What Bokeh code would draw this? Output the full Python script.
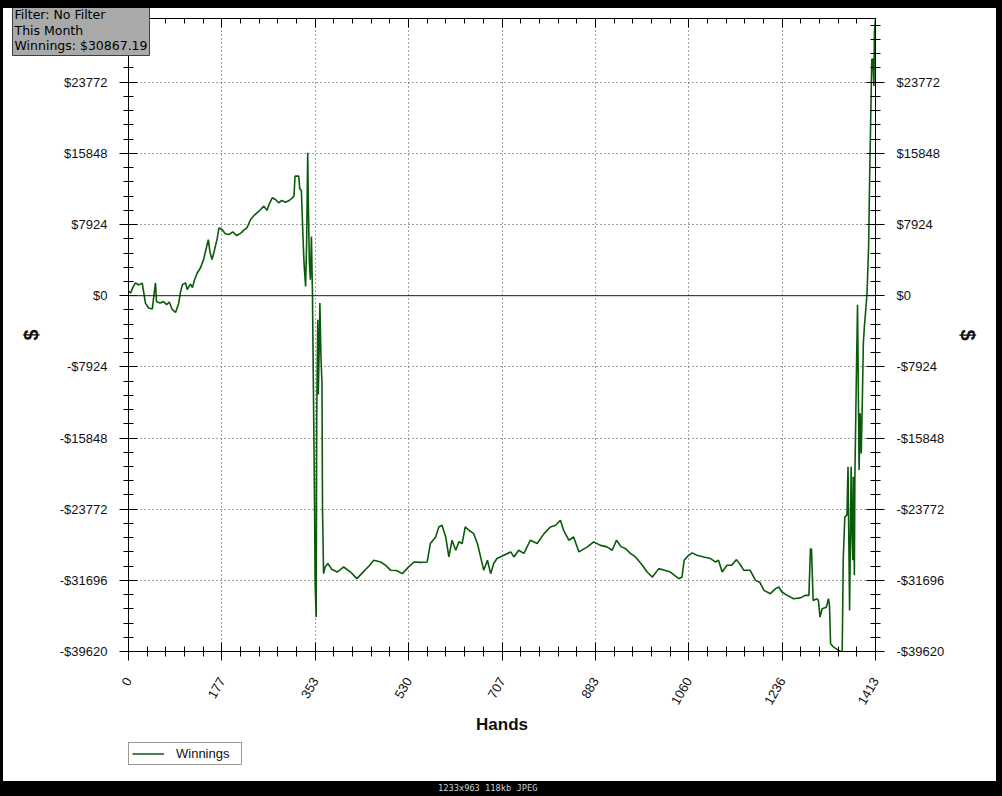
import math
from bokeh.plotting import figure
from bokeh.models import (FixedTicker, LinearAxis, Range1d, Span, Title, Legend, LegendItem, Div)
from bokeh.layouts import column
from bokeh.embed import file_html
from bokeh.resources import INLINE

# ---------------- data ----------------
hands = [0, 4, 8, 13, 20, 26, 29, 32, 38, 45, 47, 51, 53, 60, 66, 72, 77, 83, 89, 95,
         98, 102, 108, 111, 117, 121, 124, 130, 136, 142, 148, 151, 154, 158, 162, 168, 171, 177, 183, 190,
         197, 205, 213, 218, 224, 231, 237, 243, 250, 256, 262, 266, 272, 278, 284, 290, 297, 304, 310, 313,
         315, 322, 324, 327, 330, 332, 335, 337, 339, 340, 342, 344, 346, 348, 350, 352, 353, 355, 356, 358,
         359, 361, 362, 364, 366, 367, 369, 372, 377, 385, 395, 407, 420, 432, 445, 455, 464, 477, 486, 496,
         507, 518, 530, 540, 552, 565, 571, 581, 587, 593, 600, 606, 612, 619, 625, 631, 637, 644, 653, 660,
         666, 672, 679, 685, 691, 697, 710, 723, 729, 738, 748, 760, 773, 786, 798, 808, 817, 823, 833, 842,
         852, 868, 880, 893, 905, 915, 923, 932, 940, 950, 959, 972, 981, 991, 1003, 1014, 1025, 1041, 1047, 1051,
         1058, 1066, 1075, 1088, 1101, 1110, 1116, 1123, 1132, 1141, 1150, 1158, 1164, 1176, 1186, 1194, 1202, 1214, 1224, 1230,
         1236, 1246, 1258, 1271, 1280, 1287, 1290, 1292, 1295, 1302, 1305, 1308, 1312, 1320, 1324, 1326, 1328, 1334, 1343, 1350,
         1352, 1355, 1359, 1361, 1364, 1367, 1368, 1370, 1371, 1373, 1374, 1377, 1379, 1382, 1384, 1386, 1388, 1390, 1392, 1394,
         1397, 1400, 1402, 1404, 1406, 1408, 1410, 1411, 1413]
winnings = [480, 300, 900, 1420, 1200, 1400, 300, -820, -1370, -1490, -490, 1420, -670, -820, -640, -1000, -700, -1560, -1860, -840,
            300, 1230, 1420, 670, 1300, 900, 1600, 2530, 3090, 4020, 5500, 6250, 4900, 4020, 4900, 6440, 7550, 7370, 6900, 6810,
            7100, 6700, 7000, 7300, 7550, 8480, 8900, 9230, 9600, 9970, 9500, 10200, 10900, 10720, 10350, 10600, 10400, 10600, 10900, 11090,
            13310, 13310, 11900, 11700, 6620, 3650, 1040, 6000, 15920, 11000, 4000, 1790, 6600, 200, -11600, -23500, -32000, -35790, -13470, -2680,
            -11000, -5000, -820, -6770, -9740, -23880, -30950, -30200, -29830, -30500, -30770, -30210, -30770, -31510, -30700, -30100, -29460, -29650, -30000, -30580,
            -30600, -30950, -30200, -29650, -29700, -29650, -27600, -26860, -25750, -25560, -26860, -29090, -27230, -28350, -27400, -27600, -25750, -26120, -26500, -27600,
            -29090, -30580, -29460, -30950, -29800, -29270, -28900, -28530, -29090, -28350, -28700, -27230, -27600, -26490, -25750, -25560, -25000, -26120, -27230, -26860,
            -28530, -27970, -27420, -27800, -27970, -28350, -27230, -27970, -28160, -28720, -29090, -30020, -30770, -31330, -30390, -30580, -30770, -31510, -31330, -29460,
            -29000, -28640, -28900, -29090, -29270, -29650, -29460, -30770, -30020, -30020, -29390, -30020, -30580, -30580, -31700, -31900, -32810, -33180, -32620, -32440,
            -33000, -33370, -33740, -33650, -33370, -33370, -28160, -28300, -33930, -33740, -33930, -35790, -34860, -34700, -33740, -34500, -38760, -39140, -39500, -39700,
            -29270, -24630, -24440, -19050, -35040, -19050, -25000, -29460, -20170, -31140, -20170, -8260, -1000, -19420, -13090, -17560, -12000, -5280, -3420, -2000,
            300, 5500, 13310, 20000, 26340, 26340, 23360, 29320, 30867.19]

x_tick_values = [0, 176.625, 353.25, 529.875, 706.5, 883.125, 1059.75, 1236.375, 1413]
x_tick_labels = ["0", "177", "353", "530", "707", "883", "1060", "1236", "1413"]
y_tick_values = [-39620, -31696, -23772, -15848, -7924, 0, 7924, 15848, 23772]
y_tick_labels = ["-$39620", "-$31696", "-$23772", "-$15848", "-$7924", "$0", "$7924", "$15848", "$23772"]
x_min, x_max = 0, 1413
y_min, y_max = -39620, 30867.19
title_lines = ["Filter: No Filter", "This Month", "Winnings: $30867.19"]
series_name = "Winnings"
x_title = "Hands"
y_title = "$"
caption = "1233x963 118kb JPEG"

# ---------------- styling ----------------
FONT = "Liberation Sans"
LINE_COLOR = "#0b5a0b"

x_minor = []
for a, b in zip(x_tick_values[:-1], x_tick_values[1:]):
    x_minor += [a + (b - a) * k / 5 for k in range(1, 5)]
y_step = (y_tick_values[1] - y_tick_values[0]) / 5
y_minor = []
v = y_tick_values[0] + y_step
while v < y_max:
    if all(abs(v - t) > 1 for t in y_tick_values):
        y_minor.append(v)
    v += y_step

x_ticker = FixedTicker(ticks=x_tick_values, minor_ticks=x_minor)
y_ticker = FixedTicker(ticks=y_tick_values, minor_ticks=y_minor)
x_over = {t: l for t, l in zip(x_tick_values, x_tick_labels)}
y_over = {t: l for t, l in zip(y_tick_values, y_tick_labels)}

p = figure(width=993, height=733, output_backend="svg", toolbar_location=None,
           x_range=Range1d(x_min, x_max), y_range=Range1d(y_min, y_max),
           min_border_left=125, min_border_right=121, min_border_top=10, min_border_bottom=90,
           background_fill_color="white", border_fill_color="white",
           outline_line_color="black", margin=0)


def style_axis(ax, tick_out=9, minor_out=5):
    ax.axis_line_color = "black"
    ax.major_tick_line_color = "black"
    ax.minor_tick_line_color = "black"
    ax.major_tick_in = 9
    ax.major_tick_out = tick_out
    ax.minor_tick_in = 5
    ax.minor_tick_out = minor_out
    ax.major_label_text_font = FONT
    ax.major_label_text_font_size = "13px"
    ax.major_label_text_color = "#111111"
    ax.axis_label_text_font = FONT
    ax.axis_label_text_font_style = "bold"
    ax.axis_label_text_color = "#111111"


xa = p.xaxis[0]
xa.ticker = x_ticker
xa.major_label_overrides = x_over
xa.major_label_orientation = math.pi / 3
xa.major_label_standoff = 18
xa.axis_label = x_title
xa.axis_label_standoff = 4
style_axis(xa)
xa.axis_label_text_font_size = "17px"

ya = p.yaxis[0]
ya.ticker = y_ticker
ya.major_label_overrides = y_over
ya.major_label_standoff = 12
ya.axis_label = y_title
ya.axis_label_standoff = 15
style_axis(ya)
ya.axis_label_text_font_size = "20px"

ra = LinearAxis(ticker=y_ticker, major_label_overrides=y_over, major_label_standoff=12,
                axis_label=y_title, axis_label_standoff=10)
style_axis(ra)
ra.axis_label_text_font_size = "20px"
p.add_layout(ra, "right")

ta = LinearAxis(ticker=x_ticker, major_label_standoff=0)
style_axis(ta, tick_out=0, minor_out=0)
ta.major_label_text_font_size = "1px"
ta.major_label_text_color = None
p.add_layout(ta, "above")

for g in (p.xgrid[0], p.ygrid[0]):
    g.grid_line_color = "#444444"
    g.grid_line_dash = "1 3"
    g.grid_line_width = 1

p.add_layout(Span(location=0, dimension="width", line_color="#222222", line_width=1))

r = p.line(hands, winnings, line_color=LINE_COLOR, line_width=1.6)

# info box (top-left, overlapping the frame corner)
p.add_layout(Title(text="\n".join(title_lines), align="left", vertical_align="bottom",
                   offset=-116, standoff=-74, text_font="DejaVu Sans", text_font_size="12.5px",
                   text_font_style="normal", text_line_height=1.06, text_color="black",
                   background_fill_color="#a9a9a9", border_line_color="#404040",
                   border_line_width=1, padding=2), "above")

# legend strip under the chart (frame aligned with the main chart's frame)
lf = figure(width=993, height=40, output_backend="svg", toolbar_location=None,
            x_range=Range1d(0, 1), y_range=Range1d(0, 1), x_axis_type=None, y_axis_type=None,
            min_border_left=125, min_border_right=121, min_border_top=0, min_border_bottom=0,
            background_fill_color="white", border_fill_color="white", outline_line_color=None,
            margin=0)
# same series, only used as the legend's key (it lies outside this strip's ranges)
lr = lf.line(hands, winnings, line_color=LINE_COLOR, line_width=1.6)
legend = Legend(items=[LegendItem(label=series_name, renderers=[lr])], location=(0, 16),
                orientation="vertical", margin=0, padding=3, spacing=0,
                glyph_width=32, glyph_height=11, label_height=11, label_width=62, label_standoff=12,
                label_text_font=FONT, label_text_font_size="13px", label_text_color="#111111",
                border_line_color="#333333", border_line_width=1, background_fill_color="white",
                background_fill_alpha=1.0)
lf.add_layout(legend, "center")

inner = column(p, lf, spacing=0, margin=(8, 6, 0, 3), styles={"background-color": "white"})

bar = Div(text=caption, width=1002, height=15, margin=0,
          styles={"background-color": "black", "color": "#cfcfcf",
                  "font-family": "DejaVu Sans Mono", "font-size": "8.7px",
                  "text-align": "left", "line-height": "15px", "padding-left": "438px",
                  "box-sizing": "border-box", "overflow": "hidden"})

layout = column(inner, bar, spacing=0, styles={"background-color": "black"})
open("out.html", "w").write(file_html(layout, INLINE))
